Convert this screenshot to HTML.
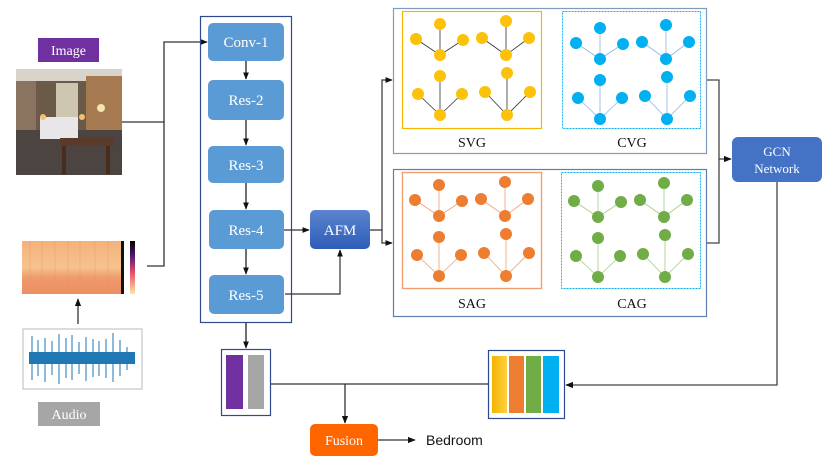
<!DOCTYPE html>
<html><head><meta charset="utf-8"><style>
body{margin:0;background:#fff}
svg{display:block}
text{font-family:"Liberation Serif",serif}
</style></head><body>
<svg width="830" height="467" viewBox="0 0 830 467" xmlns="http://www.w3.org/2000/svg">
<defs>
<marker id="a" viewBox="0 0 10 10" refX="9" refY="5" markerWidth="6" markerHeight="6" orient="auto"><path d="M0,1L10,5L0,9z" fill="#111"/></marker>
<linearGradient id="afm" x1="0" y1="0" x2="0" y2="1"><stop offset="0" stop-color="#5b85d0"/><stop offset="1" stop-color="#2e5cb8"/></linearGradient>
<linearGradient id="spec" x1="0" y1="0" x2="0" y2="1"><stop offset="0" stop-color="#f3b27a"/><stop offset="0.5" stop-color="#f6c28f"/><stop offset="0.7" stop-color="#ee9a6a"/><stop offset="1" stop-color="#ec8f62"/></linearGradient>
<linearGradient id="cb" x1="0" y1="0" x2="0" y2="1"><stop offset="0" stop-color="#000"/><stop offset="0.3" stop-color="#5a1a7a"/><stop offset="0.6" stop-color="#e8506a"/><stop offset="1" stop-color="#fbe8a0"/></linearGradient>
<linearGradient id="yb" x1="0" x2="1"><stop offset="0" stop-color="#f4b400"/><stop offset="1" stop-color="#ffd040"/></linearGradient>
<g id="tree">
<g stroke-width="0.8">
<line x1="38" y1="13" x2="38" y2="44"/><line x1="14" y1="28" x2="38" y2="44"/><line x1="61" y1="29" x2="38" y2="44"/>
<line x1="104" y1="10" x2="104" y2="44"/><line x1="80" y1="27" x2="104" y2="44"/><line x1="127" y1="27" x2="104" y2="44"/>
<line x1="38" y1="65" x2="38" y2="104"/><line x1="16" y1="83" x2="38" y2="104"/><line x1="60" y1="83" x2="38" y2="104"/>
<line x1="105" y1="62" x2="105" y2="104"/><line x1="83" y1="81" x2="105" y2="104"/><line x1="128" y1="81" x2="105" y2="104"/>
</g>
<g stroke="none">
<circle cx="38" cy="13" r="6"/><circle cx="14" cy="28" r="6"/><circle cx="61" cy="29" r="6"/><circle cx="38" cy="44" r="6"/>
<circle cx="104" cy="10" r="6"/><circle cx="80" cy="27" r="6"/><circle cx="127" cy="27" r="6"/><circle cx="104" cy="44" r="6"/>
<circle cx="38" cy="65" r="6"/><circle cx="16" cy="83" r="6"/><circle cx="60" cy="83" r="6"/><circle cx="38" cy="104" r="6"/>
<circle cx="105" cy="62" r="6"/><circle cx="83" cy="81" r="6"/><circle cx="128" cy="81" r="6"/><circle cx="105" cy="104" r="6"/>
</g>
</g>
</defs>

<!-- Image label -->
<rect x="38" y="38" width="61" height="24" fill="#7030a0"/>
<text x="68.5" y="55" font-size="14" fill="#fff" text-anchor="middle">Image</text>
<!-- photo -->
<rect x="16" y="69" width="106" height="106" fill="#6b5a48"/>
<rect x="16" y="69" width="106" height="12" fill="#d8d4cc"/>
<rect x="56" y="83" width="22" height="35" fill="#cfc6b0"/>
<rect x="86" y="76" width="36" height="60" fill="#a57a50"/>
<rect x="16" y="81" width="20" height="50" fill="#8a7460"/>
<rect x="16" y="130" width="106" height="45" fill="#4b4440"/>
<rect x="40" y="117" width="38" height="22" fill="#e8e6e8"/>
<rect x="60" y="138" width="54" height="8" fill="#5a3a28"/>
<rect x="62" y="146" width="4" height="28" fill="#4a2a1a"/><rect x="106" y="146" width="4" height="28" fill="#4a2a1a"/>
<circle cx="101" cy="108" r="4" fill="#f5e3b0"/>
<circle cx="43" cy="117" r="3" fill="#f3c070"/><circle cx="82" cy="117" r="3" fill="#f3c070"/>

<!-- spectrogram -->
<rect x="22" y="241" width="102" height="53" fill="url(#spec)"/>
<rect x="121" y="241" width="3" height="53" fill="#111"/>
<rect x="130" y="241" width="5" height="53" fill="url(#cb)"/>
<g stroke="#e8906a" stroke-width="0.6" opacity="0.6">
<line x1="30" y1="241" x2="30" y2="294"/><line x1="42" y1="241" x2="42" y2="294"/><line x1="55" y1="241" x2="55" y2="294"/><line x1="68" y1="241" x2="68" y2="294"/><line x1="80" y1="241" x2="80" y2="294"/><line x1="95" y1="241" x2="95" y2="294"/><line x1="108" y1="241" x2="108" y2="294"/>
</g>
<!-- waveform -->
<rect x="23" y="329" width="119" height="60" fill="#fff" stroke="#aaa" stroke-width="0.8"/>
<rect x="29" y="352" width="106" height="12" fill="#1f77b4"/>
<g stroke="#1f77b4" stroke-width="1">
<line x1="32" y1="336" x2="32" y2="380"/><line x1="38" y1="340" x2="38" y2="376"/><line x1="45" y1="338" x2="45" y2="382"/><line x1="52" y1="341" x2="52" y2="375"/><line x1="59" y1="334" x2="59" y2="384"/><line x1="66" y1="338" x2="66" y2="378"/><line x1="72" y1="335" x2="72" y2="380"/><line x1="79" y1="342" x2="79" y2="374"/><line x1="86" y1="337" x2="86" y2="381"/><line x1="93" y1="339" x2="93" y2="377"/><line x1="99" y1="341" x2="99" y2="376"/><line x1="106" y1="339" x2="106" y2="378"/><line x1="113" y1="333" x2="113" y2="382"/><line x1="120" y1="340" x2="120" y2="376"/><line x1="127" y1="347" x2="127" y2="370"/>
</g>
<!-- Audio label -->
<rect x="38" y="402" width="62" height="24" fill="#a6a6a6"/>
<text x="69" y="419" font-size="14" fill="#fff" text-anchor="middle">Audio</text>

<!-- connectors left -->
<g stroke="#333" stroke-width="1.3" fill="none">
<polyline points="122,122 164,122 164,42 207,42" marker-end="url(#a)"/>
<polyline points="147,266 164,266 164,122"/>
<line x1="78" y1="324" x2="78" y2="299" marker-end="url(#a)"/>
</g>

<!-- backbone -->
<rect x="200.5" y="16.5" width="91" height="306" fill="none" stroke="#2f4a8a" stroke-width="1.2"/>
<g fill="#5b9bd5">
<rect x="208" y="23" width="76" height="38" rx="5"/>
<rect x="208" y="80" width="76" height="40" rx="5"/>
<rect x="208" y="146" width="76" height="37" rx="5"/>
<rect x="209" y="210" width="75" height="39" rx="5"/>
<rect x="209" y="275" width="75" height="39" rx="5"/>
</g>
<g font-size="15" fill="#fff" text-anchor="middle">
<text x="246" y="47">Conv-1</text><text x="246" y="105">Res-2</text><text x="246" y="170">Res-3</text><text x="246" y="235">Res-4</text><text x="246" y="300">Res-5</text>
</g>
<g stroke="#111" stroke-width="1.2">
<line x1="246" y1="61" x2="246" y2="79" marker-end="url(#a)"/>
<line x1="246" y1="120" x2="246" y2="145" marker-end="url(#a)"/>
<line x1="246" y1="183" x2="246" y2="209" marker-end="url(#a)"/>
<line x1="246" y1="249" x2="246" y2="274" marker-end="url(#a)"/>
<line x1="246" y1="323" x2="246" y2="348" marker-end="url(#a)"/>
</g>

<!-- AFM -->
<rect x="310" y="210" width="60" height="39" rx="5" fill="url(#afm)"/>
<text x="340" y="235" font-size="15" fill="#fff" text-anchor="middle">AFM</text>
<g stroke="#333" stroke-width="1.2" fill="none">
<line x1="284" y1="230" x2="309" y2="230" marker-end="url(#a)"/>
<polyline points="285,294 340,294 340,250" marker-end="url(#a)"/>
<polyline points="370,230 382,230 382,243 392,243" marker-end="url(#a)"/>
<polyline points="382,230 382,80 392,80" marker-end="url(#a)"/>
</g>

<!-- graph panels -->
<rect x="393.5" y="8.5" width="313" height="145" fill="none" stroke="#7f9bbd" stroke-width="1.2"/>
<rect x="393.5" y="169.5" width="313" height="147" fill="none" stroke="#5b80b0" stroke-width="1.2"/>
<rect x="402.5" y="11.5" width="139" height="117" fill="none" stroke="#f5b800" stroke-width="1.2"/>
<rect x="562.5" y="11.5" width="138" height="117" fill="none" stroke="#00b0f0" stroke-width="0.9" stroke-dasharray="2,1"/>
<rect x="402.5" y="172.5" width="139" height="116" fill="none" stroke="#f0a070" stroke-width="1.4"/>
<rect x="561.5" y="172.5" width="139" height="116" fill="none" stroke="#00b0f0" stroke-width="0.9" stroke-dasharray="2,1"/>
<use href="#tree" x="402" y="11" fill="#fcc20a" stroke="#333"/>
<use href="#tree" x="562" y="15" fill="#00b0f0" stroke="#8ab8e0"/>
<use href="#tree" x="401" y="172" fill="#ed7d31" stroke="#f0a070"/>
<use href="#tree" x="560" y="173" fill="#70ad47" stroke="#9fcf80"/>
<g font-size="14" fill="#111" text-anchor="middle">
<text x="472" y="147">SVG</text><text x="632" y="147">CVG</text>
<text x="472" y="308">SAG</text><text x="632" y="308">CAG</text>
</g>

<!-- to GCN -->
<g stroke="#444" stroke-width="1.3" fill="none">
<polyline points="707,80 719,80 719,243 707,243"/>
<line x1="719" y1="159" x2="731" y2="159" marker-end="url(#a)"/>
<polyline points="777,182 777,385 566,385" marker-end="url(#a)"/>
</g>
<rect x="732" y="137" width="90" height="45" rx="6" fill="#4472c4"/>
<text x="777" y="156" font-size="13" fill="#fff" text-anchor="middle">GCN</text>
<text x="777" y="173" font-size="13" fill="#fff" text-anchor="middle">Network</text>

<!-- feature boxes -->
<rect x="221.5" y="349.5" width="49" height="66" fill="#fff" stroke="#2f4a8a" stroke-width="1.2"/>
<rect x="226" y="355" width="17" height="54" fill="#7030a0"/>
<rect x="248" y="355" width="16" height="54" fill="#a6a6a6"/>
<rect x="488.5" y="350.5" width="76" height="68" fill="#fff" stroke="#2f4a8a" stroke-width="1.2"/>
<rect x="492" y="356" width="15" height="57" fill="url(#yb)"/>
<rect x="509" y="356" width="15" height="57" fill="#ed7d31"/>
<rect x="526" y="356" width="15" height="57" fill="#70ad47"/>
<rect x="543" y="356" width="16" height="57" fill="#00b0f0"/>
<g stroke="#333" stroke-width="1.3" fill="none">
<line x1="271" y1="384" x2="488" y2="384"/>
<line x1="345" y1="384" x2="345" y2="423" marker-end="url(#a)"/>
<line x1="378" y1="440" x2="415" y2="440" marker-end="url(#a)"/>
</g>
<rect x="310" y="424" width="68" height="32" rx="5" fill="#ff6600"/>
<text x="344" y="445" font-size="14" fill="#fff" text-anchor="middle">Fusion</text>
<text x="426" y="445" font-size="14" fill="#111" style="font-family:'Liberation Sans',sans-serif">Bedroom</text>
</svg>
</body></html>
